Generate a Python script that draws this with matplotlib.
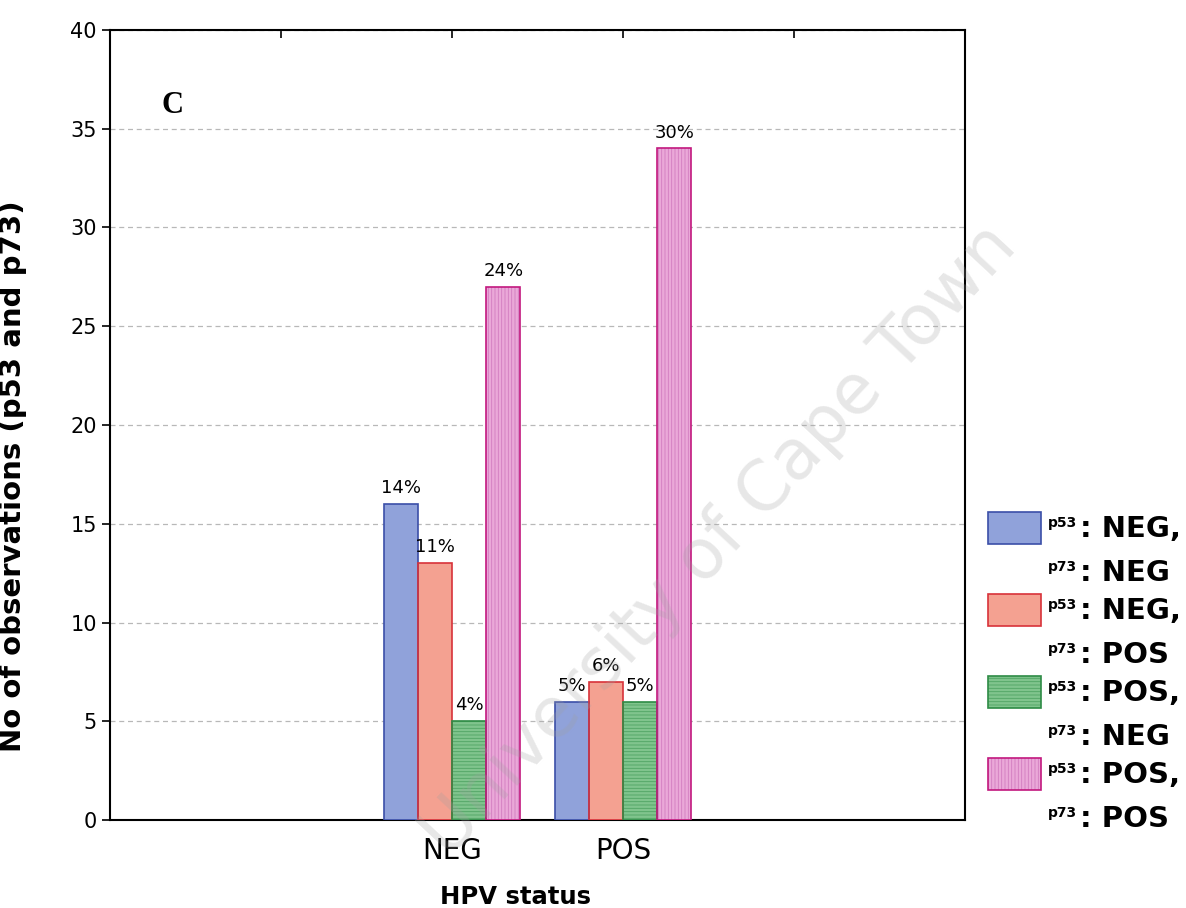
import matplotlib
matplotlib.use("Agg")
import matplotlib.pyplot as plt
from matplotlib.patches import Rectangle

# HPV status groups and the four p53/p73 combinations
groups = ["NEG", "POS"]
series_names = [
    ("NEG,", "NEG"),
    ("NEG,", "POS"),
    ("POS,", "NEG"),
    ("POS,", "POS"),
]
neg_neg = [16, 6]
neg_pos = [13, 7]
pos_neg = [5, 6]
pos_pos = [27, 34]
pct_neg_neg = ["14%", "5%"]
pct_neg_pos = ["11%", "6%"]
pct_pos_neg = ["4%", "5%"]
pct_pos_pos = ["24%", "30%"]

values = [neg_neg, neg_pos, pos_neg, pos_pos]
pcts = [pct_neg_neg, pct_neg_pos, pct_pos_neg, pct_pos_pos]

# styles
faces = ["#90a2da", "#f4a191", "#80c48d", "#eaa8d8"]
edges = ["#3b4fa8", "#d8323a", "#2e8b45", "#c2187e"]
hatch_cols = ["#90a2da", "#f4a191", "#4fa463", "#d27cc0"]
hatches = [None, None, "-----", "|||||"]

plt.rcParams["hatch.linewidth"] = 0.6

fig = plt.figure(figsize=(11.86, 9.08), dpi=100)
ax = fig.add_axes([0.0927, 0.0969, 0.7210, 0.8701])

positions = [2, 3]
width = 0.2
offsets = [-1.5, -0.5, 0.5, 1.5]

for i in range(4):
    xs = [p + offsets[i] * width for p in positions]
    # fill + hatch, then outline on top
    ax.bar(xs, values[i], width=width, color=faces[i], edgecolor=hatch_cols[i],
           hatch=hatches[i], linewidth=0, zorder=3)
    ax.bar(xs, values[i], width=width, fill=False, edgecolor=edges[i],
           linewidth=1.2, zorder=3.5)
    for x, v, t in zip(xs, values[i], pcts[i]):
        ax.text(x, v + 0.35, t, ha="center", va="bottom", fontsize=13, zorder=4)

ax.set_xlim(0, 5)
ax.set_ylim(0, 40)
ax.set_yticks(range(0, 41, 5))
ax.set_xticks([1, 2, 3, 4])
ax.set_xticklabels(["", groups[0], groups[1], ""], fontsize=20)
ax.tick_params(axis="x", bottom=False, top=True, direction="in", length=6, width=1.2, pad=12)
ax.tick_params(axis="y", left=True, right=False, direction="out", length=6, width=1.2,
               labelsize=15)

for s in ax.spines.values():
    s.set_linewidth(1.5)

ax.yaxis.grid(True, linestyle=(0, (4, 3)), color="#b8b8b8", linewidth=0.9, zorder=0)

ax.set_ylabel("No of observations (p53 and p73)", fontsize=21, fontweight="bold")
ax.yaxis.set_label_coords(-0.097, 0.435)
ax.set_xlabel("HPV status", fontsize=17.5, fontweight="bold")
ax.xaxis.set_label_coords(0.474, -0.082)

ax.text(0.06, 0.905, "C", transform=ax.transAxes, fontsize=22, fontweight="bold",
        family="Liberation Serif", ha="left", va="center")

# legend drawn by hand to the right of the axes
H = 908.0
for i in range(4):
    top = 512 + i * 82
    box = (988 / 1186, 1 - (top + 32) / H)
    fig.patches.append(Rectangle(box, 53 / 1186, 32 / H, transform=fig.transFigure,
                                 facecolor=faces[i], edgecolor=hatch_cols[i],
                                 hatch=hatches[i], linewidth=0))
    fig.patches.append(Rectangle(box, 53 / 1186, 32 / H, transform=fig.transFigure,
                                 fill=False, edgecolor=edges[i], linewidth=1.2))
    for k, (sup, main) in enumerate([("p53", series_names[i][0]), ("p73", series_names[i][1])]):
        base = top + 25 + k * 44
        fig.text(1048 / 1186, 1 - (base - 21) / H, sup, fontsize=10, fontweight="bold",
                 ha="left", va="top")
        fig.text(1080 / 1186, 1 - base / H, ": " + main, fontsize=21, fontweight="bold",
                 ha="left", va="baseline")

# watermark
fig.text(0.607, 0.405, "University of Cape Town", fontsize=50, color="#a0a0a0",
         alpha=0.25, rotation=47, ha="center", va="center", zorder=10)

fig.savefig("out.png", dpi=100)
